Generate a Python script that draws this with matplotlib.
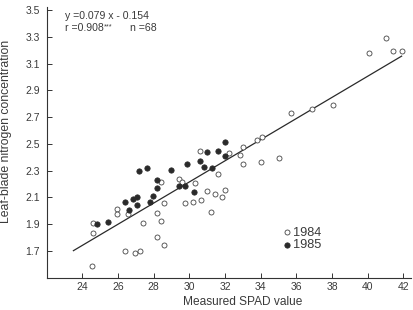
import matplotlib
matplotlib.use("Agg")
import matplotlib.pyplot as plt

plt.rcParams['font.family'] = ['Liberation Sans', 'DejaVu Sans']

# 1984 season (open circles)
spad_1984 = [24.56, 24.58, 24.58, 25.93, 25.93, 26.56, 26.41, 26.95, 27.23, 27.40,
             28.20, 28.41, 28.20, 28.58, 28.60, 28.39, 29.40, 29.57, 29.78, 30.21,
             30.32, 30.63, 31.00, 31.43, 31.85, 32.00, 31.20, 31.60, 30.59, 32.22,
             32.82, 32.99, 33.81, 34.05, 33.00, 34.00, 35.00, 35.70, 36.86, 38.06,
             40.08, 41.05, 41.39, 41.95]
n_1984 = [1.585, 1.837, 1.907, 2.012, 1.975, 1.975, 1.702, 1.685, 1.700, 1.910,
          1.986, 1.927, 1.801, 1.746, 2.062, 2.219, 2.239, 2.215, 2.060, 2.067,
          2.208, 2.084, 2.146, 2.124, 2.103, 2.155, 1.988, 2.277, 2.450, 2.432,
          2.414, 2.480, 2.530, 2.550, 2.348, 2.367, 2.397, 2.730, 2.764, 2.794,
          3.180, 3.288, 3.193, 3.193]

# 1985 season (filled circles)
spad_1985 = [24.81, 25.43, 26.41, 26.63, 26.84, 27.08, 27.04, 27.18, 27.62, 27.78,
             27.96, 28.18, 28.20, 28.95, 29.86, 29.40, 29.77, 30.24, 30.62, 30.84,
             31.26, 31.00, 31.62, 32.00, 32.00]
n_1985 = [1.904, 1.920, 2.064, 2.006, 2.088, 2.101, 2.045, 2.297, 2.320, 2.066,
          2.109, 2.227, 2.174, 2.307, 2.352, 2.186, 2.185, 2.141, 2.370, 2.324,
          2.322, 2.437, 2.450, 2.512, 2.412]

# regression y = 0.079 x - 0.154
slope, intercept = 0.079, -0.154
fit_x = [23.5, 41.9]
fit_y = [slope * v + intercept for v in fit_x]

xticks = [24, 26, 28, 30, 32, 34, 36, 38, 40, 42]
yticks = [1.7, 1.9, 2.1, 2.3, 2.5, 2.7, 2.9, 3.1, 3.3, 3.5]

ink = '#2a2a2a'
txt = '#3a3a3a'

fig = plt.figure(figsize=(4.13, 3.10), dpi=100)
ax = fig.add_axes([0.113, 0.104, 0.881, 0.872])

ax.plot(fit_x, fit_y, color=ink, lw=0.9, zorder=2)
ax.scatter(spad_1984, n_1984, s=13, facecolors='white', edgecolors='#444444',
           linewidths=0.6, zorder=3, label='1984')
ax.scatter(spad_1985, n_1985, s=15, facecolors=ink, edgecolors=ink,
           linewidths=0.5, zorder=4, label='1985')

ax.set_xlim(22, 42.4)
ax.set_ylim(1.5, 3.52)
ax.set_xticks(xticks)
ax.set_yticks(yticks)
ax.set_yticklabels([f'{t:.1f}' for t in yticks])

for side in ['top', 'right']:
    ax.spines[side].set_visible(False)
for side in ['left', 'bottom']:
    ax.spines[side].set_color('#333333')
    ax.spines[side].set_linewidth(0.8)

ax.tick_params(direction='in', length=3.5, width=0.7, color='#333333',
               labelsize=7.5, labelcolor=txt)
ax.tick_params(axis='y', pad=5)
ax.tick_params(axis='x', pad=3)

ax.set_xlabel('Measured SPAD value', fontsize=8.6, color=txt)
ax.xaxis.set_label_coords(0.54, -0.068)
ax.set_ylabel('Leaf-blade nitrogen concentration', fontsize=8.8, color=txt)
ax.yaxis.set_label_coords(-0.095, 0.54)

# fit statistics
ax.text(0.05, 0.97, 'y =0.079 x - 0.154', transform=ax.transAxes,
        fontsize=7.6, color=txt, va='center')
r_txt = ax.text(0.05, 0.925, 'r =0.908', transform=ax.transAxes,
                fontsize=7.6, color=txt, va='center')
ax.annotate('***', xy=(1, 0.95), xycoords=r_txt, xytext=(0.3, 0),
            textcoords='offset points', fontsize=5.2, color=txt,
            ha='left', va='top')
ax.annotate('n =68', xy=(1, 0), xycoords=r_txt, xytext=(19, 0),
            textcoords='offset points', fontsize=7.6, color=txt,
            ha='left', va='bottom')

ax.legend(loc='center left', bbox_to_anchor=(0.651, 0.143), frameon=False,
          fontsize=9.2, handlelength=0.6, handletextpad=0.15, labelspacing=0.05,
          borderpad=0, borderaxespad=0, labelcolor=txt)

fig.savefig('out.png', dpi=100)
